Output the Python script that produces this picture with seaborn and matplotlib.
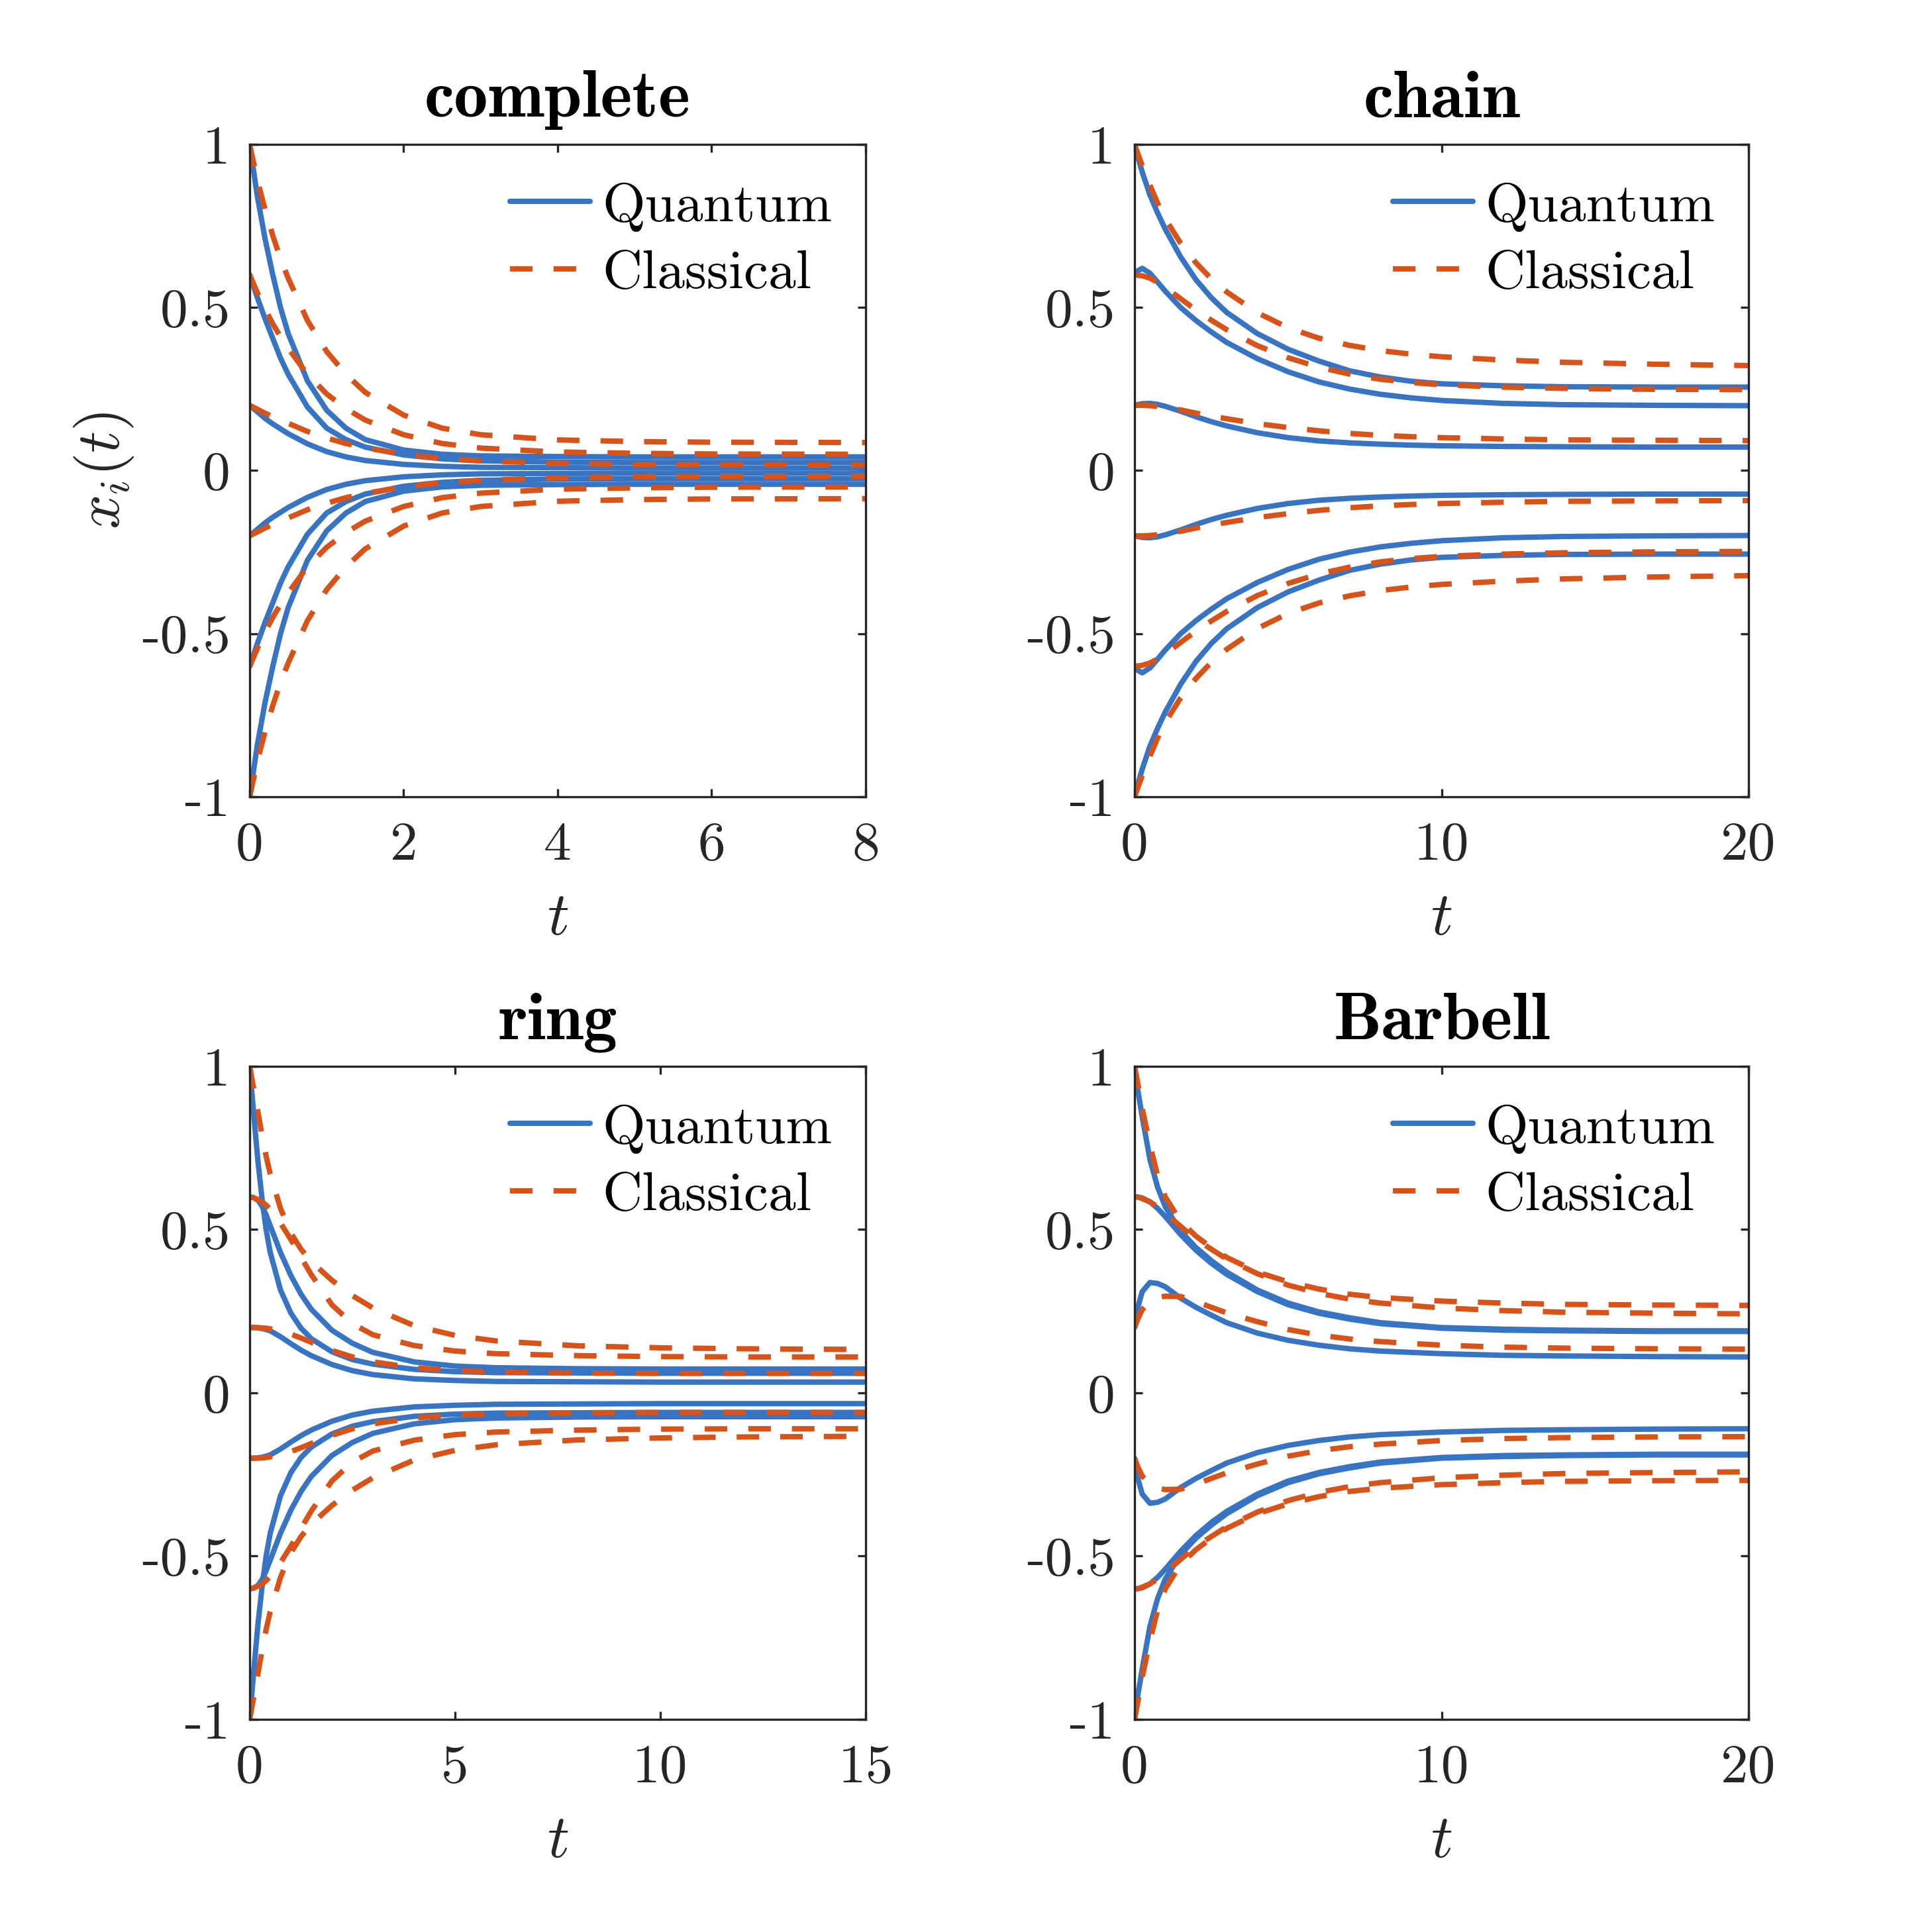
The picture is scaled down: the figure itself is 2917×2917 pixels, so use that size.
import numpy as np
import pandas as pd
import matplotlib
import matplotlib.pyplot as plt
from matplotlib.lines import Line2D
import seaborn as sns

matplotlib.use('Agg')

# ---- data (six nodes per panel, starting at 1, .6, .2, -.2, -.6, -1)

complete_t = [0, 0.1, 0.2, 0.3, 0.4, 0.5, 0.75, 1, 1.25, 1.5, 2, 2.5, 3, 4, 5, 6, 8]
complete_quantum = [
    [1.00, 0.84, 0.71, 0.60, 0.50, 0.42, 0.275, 0.185, 0.13, 0.095, 0.063, 0.05, 0.045, 0.043, 0.042, 0.042, 0.042],
    [0.60, 0.53, 0.465, 0.405, 0.345, 0.295, 0.195, 0.13, 0.095, 0.072, 0.048, 0.036, 0.03, 0.026, 0.025, 0.025, 0.025],
    [0.20, 0.18, 0.16, 0.143, 0.128, 0.113, 0.082, 0.058, 0.042, 0.031, 0.019, 0.013, 0.01, 0.009, 0.008, 0.008, 0.008],
    [-0.20, -0.18, -0.16, -0.143, -0.128, -0.113, -0.082, -0.058, -0.042, -0.031, -0.019, -0.013, -0.01, -0.009, -0.008, -0.008, -0.008],
    [-0.60, -0.53, -0.465, -0.405, -0.345, -0.295, -0.195, -0.13, -0.095, -0.072, -0.048, -0.036, -0.03, -0.026, -0.025, -0.025, -0.025],
    [-1.00, -0.84, -0.71, -0.60, -0.50, -0.42, -0.275, -0.185, -0.13, -0.095, -0.063, -0.05, -0.045, -0.043, -0.042, -0.042, -0.042],
]
complete_classical = [
    [1.00, 0.89, 0.80, 0.72, 0.65, 0.59, 0.46, 0.365, 0.295, 0.24, 0.17, 0.13, 0.11, 0.094, 0.089, 0.087, 0.086],
    [0.60, 0.545, 0.495, 0.45, 0.41, 0.375, 0.295, 0.235, 0.19, 0.155, 0.11, 0.083, 0.069, 0.057, 0.053, 0.051, 0.05],
    [0.20, 0.188, 0.176, 0.165, 0.155, 0.145, 0.12, 0.10, 0.083, 0.07, 0.05, 0.037, 0.03, 0.022, 0.019, 0.018, 0.017],
    [-0.20, -0.188, -0.176, -0.165, -0.155, -0.145, -0.12, -0.10, -0.083, -0.07, -0.05, -0.037, -0.03, -0.022, -0.019, -0.018, -0.017],
    [-0.60, -0.545, -0.495, -0.45, -0.41, -0.375, -0.295, -0.235, -0.19, -0.155, -0.11, -0.083, -0.069, -0.057, -0.053, -0.051, -0.05],
    [-1.00, -0.89, -0.80, -0.72, -0.65, -0.59, -0.46, -0.365, -0.295, -0.24, -0.17, -0.13, -0.11, -0.094, -0.089, -0.087, -0.086],
]

chain_t = [0, 0.1, 0.25, 0.5, 0.75, 1, 1.5, 2, 2.5, 3, 4, 5, 6, 7, 8, 9, 10, 12, 14, 17, 20]
chain_quantum = [
    [1.0, 0.965, 0.915, 0.845, 0.79, 0.74, 0.655, 0.585, 0.53, 0.485, 0.42, 0.372, 0.336, 0.306, 0.287, 0.274, 0.266, 0.26, 0.257, 0.256, 0.256],
    [0.6, 0.612, 0.62, 0.605, 0.578, 0.55, 0.5, 0.46, 0.425, 0.393, 0.343, 0.303, 0.272, 0.25, 0.234, 0.223, 0.215, 0.206, 0.202, 0.2, 0.199],
    [0.2, 0.202, 0.205, 0.206, 0.203, 0.197, 0.182, 0.165, 0.15, 0.137, 0.116, 0.101, 0.091, 0.085, 0.081, 0.078, 0.076, 0.074, 0.073, 0.072, 0.072],
    [-0.2, -0.202, -0.205, -0.206, -0.203, -0.197, -0.182, -0.165, -0.15, -0.137, -0.116, -0.101, -0.091, -0.085, -0.081, -0.078, -0.076, -0.074, -0.073, -0.072, -0.072],
    [-0.6, -0.612, -0.62, -0.605, -0.578, -0.55, -0.5, -0.46, -0.425, -0.393, -0.343, -0.303, -0.272, -0.25, -0.234, -0.223, -0.215, -0.206, -0.202, -0.2, -0.199],
    [-1.0, -0.965, -0.915, -0.845, -0.79, -0.74, -0.655, -0.585, -0.53, -0.485, -0.42, -0.372, -0.336, -0.306, -0.287, -0.274, -0.266, -0.26, -0.257, -0.256, -0.256],
]
chain_classical = [
    [1.0, 0.973, 0.935, 0.875, 0.82, 0.772, 0.697, 0.637, 0.588, 0.548, 0.484, 0.438, 0.406, 0.384, 0.368, 0.357, 0.349, 0.339, 0.332, 0.326, 0.322],
    [0.6, 0.599, 0.597, 0.59, 0.577, 0.562, 0.527, 0.492, 0.461, 0.432, 0.383, 0.346, 0.317, 0.296, 0.28, 0.27, 0.263, 0.256, 0.252, 0.249, 0.248],
    [0.2, 0.2, 0.2, 0.199, 0.197, 0.194, 0.186, 0.176, 0.167, 0.159, 0.144, 0.132, 0.122, 0.114, 0.108, 0.104, 0.101, 0.097, 0.094, 0.093, 0.092],
    [-0.2, -0.2, -0.2, -0.199, -0.197, -0.194, -0.186, -0.176, -0.167, -0.159, -0.144, -0.132, -0.122, -0.114, -0.108, -0.104, -0.101, -0.097, -0.094, -0.093, -0.092],
    [-0.6, -0.599, -0.597, -0.59, -0.577, -0.562, -0.527, -0.492, -0.461, -0.432, -0.383, -0.346, -0.317, -0.296, -0.28, -0.27, -0.263, -0.256, -0.252, -0.249, -0.248],
    [-1.0, -0.973, -0.935, -0.875, -0.82, -0.772, -0.697, -0.637, -0.588, -0.548, -0.484, -0.438, -0.406, -0.384, -0.368, -0.357, -0.349, -0.339, -0.332, -0.326, -0.322],
]

ring_t = [0, 0.1, 0.2, 0.3, 0.4, 0.5, 0.75, 1, 1.25, 1.5, 2, 2.5, 3, 4, 5, 6, 8, 10, 12, 15]
ring_quantum = [
    [1.0, 0.85, 0.71, 0.595, 0.5, 0.43, 0.315, 0.245, 0.198, 0.166, 0.126, 0.102, 0.088, 0.072, 0.065, 0.062, 0.061, 0.06, 0.06, 0.06],
    [0.6, 0.598, 0.59, 0.572, 0.545, 0.512, 0.43, 0.36, 0.302, 0.256, 0.192, 0.152, 0.124, 0.095, 0.082, 0.077, 0.074, 0.073, 0.073, 0.073],
    [0.2, 0.2, 0.199, 0.197, 0.194, 0.19, 0.172, 0.151, 0.131, 0.114, 0.087, 0.068, 0.056, 0.043, 0.038, 0.035, 0.034, 0.033, 0.033, 0.033],
    [-0.2, -0.2, -0.199, -0.197, -0.194, -0.19, -0.172, -0.151, -0.131, -0.114, -0.087, -0.068, -0.056, -0.043, -0.038, -0.035, -0.034, -0.033, -0.033, -0.033],
    [-0.6, -0.598, -0.59, -0.572, -0.545, -0.512, -0.43, -0.36, -0.302, -0.256, -0.192, -0.152, -0.124, -0.095, -0.082, -0.077, -0.074, -0.073, -0.073, -0.073],
    [-1.0, -0.85, -0.71, -0.595, -0.5, -0.43, -0.315, -0.245, -0.198, -0.166, -0.126, -0.102, -0.088, -0.072, -0.065, -0.062, -0.061, -0.06, -0.06, -0.06],
]
ring_classical = [
    [1.0, 0.93, 0.86, 0.79, 0.725, 0.67, 0.565, 0.49, 0.44, 0.402, 0.345, 0.298, 0.26, 0.206, 0.176, 0.159, 0.144, 0.138, 0.135, 0.133],
    [0.6, 0.597, 0.592, 0.585, 0.575, 0.562, 0.52, 0.47, 0.415, 0.362, 0.27, 0.212, 0.178, 0.145, 0.128, 0.12, 0.114, 0.111, 0.11, 0.11],
    [0.2, 0.2, 0.2, 0.199, 0.198, 0.196, 0.19, 0.18, 0.168, 0.155, 0.13, 0.11, 0.095, 0.077, 0.068, 0.064, 0.061, 0.06, 0.06, 0.06],
    [-0.2, -0.2, -0.2, -0.199, -0.198, -0.196, -0.19, -0.18, -0.168, -0.155, -0.13, -0.11, -0.095, -0.077, -0.068, -0.064, -0.061, -0.06, -0.06, -0.06],
    [-0.6, -0.597, -0.592, -0.585, -0.575, -0.562, -0.52, -0.47, -0.415, -0.362, -0.27, -0.212, -0.178, -0.145, -0.128, -0.12, -0.114, -0.111, -0.11, -0.11],
    [-1.0, -0.93, -0.86, -0.79, -0.725, -0.67, -0.565, -0.49, -0.44, -0.402, -0.345, -0.298, -0.26, -0.206, -0.176, -0.159, -0.144, -0.138, -0.135, -0.133],
]

barbell_t = [0, 0.1, 0.25, 0.5, 0.75, 1, 1.5, 2, 2.5, 3, 4, 5, 6, 7, 8, 10, 12, 14, 17, 20]
barbell_quantum = [
    [1.0, 0.93, 0.845, 0.715, 0.63, 0.57, 0.495, 0.445, 0.405, 0.37, 0.315, 0.275, 0.248, 0.23, 0.215, 0.2, 0.195, 0.192, 0.19, 0.19],
    [0.6, 0.6, 0.597, 0.585, 0.565, 0.54, 0.485, 0.437, 0.397, 0.363, 0.31, 0.27, 0.244, 0.226, 0.212, 0.198, 0.192, 0.19, 0.188, 0.188],
    [0.2, 0.26, 0.31, 0.338, 0.335, 0.325, 0.29, 0.262, 0.238, 0.215, 0.183, 0.161, 0.146, 0.135, 0.128, 0.12, 0.115, 0.113, 0.111, 0.11],
    [-0.2, -0.26, -0.31, -0.338, -0.335, -0.325, -0.29, -0.262, -0.238, -0.215, -0.183, -0.161, -0.146, -0.135, -0.128, -0.12, -0.115, -0.113, -0.111, -0.11],
    [-0.6, -0.6, -0.597, -0.585, -0.565, -0.54, -0.485, -0.437, -0.397, -0.363, -0.31, -0.27, -0.244, -0.226, -0.212, -0.198, -0.192, -0.19, -0.188, -0.188],
    [-1.0, -0.93, -0.845, -0.715, -0.63, -0.57, -0.495, -0.445, -0.405, -0.37, -0.315, -0.275, -0.248, -0.23, -0.215, -0.2, -0.195, -0.192, -0.19, -0.19],
]
barbell_classical = [
    [1.0, 0.95, 0.87, 0.76, 0.665, 0.6, 0.525, 0.48, 0.445, 0.415, 0.37, 0.34, 0.318, 0.302, 0.292, 0.281, 0.275, 0.271, 0.269, 0.268],
    [0.6, 0.6, 0.595, 0.585, 0.57, 0.55, 0.51, 0.47, 0.44, 0.41, 0.365, 0.33, 0.305, 0.287, 0.275, 0.26, 0.252, 0.247, 0.244, 0.242],
    [0.2, 0.225, 0.255, 0.28, 0.292, 0.296, 0.295, 0.28, 0.262, 0.245, 0.218, 0.194, 0.177, 0.165, 0.157, 0.146, 0.14, 0.137, 0.135, 0.134],
    [-0.2, -0.225, -0.255, -0.28, -0.292, -0.296, -0.295, -0.28, -0.262, -0.245, -0.218, -0.194, -0.177, -0.165, -0.157, -0.146, -0.14, -0.137, -0.135, -0.134],
    [-0.6, -0.6, -0.595, -0.585, -0.57, -0.55, -0.51, -0.47, -0.44, -0.41, -0.365, -0.33, -0.305, -0.287, -0.275, -0.26, -0.252, -0.247, -0.244, -0.242],
    [-1.0, -0.95, -0.87, -0.76, -0.665, -0.6, -0.525, -0.48, -0.445, -0.415, -0.37, -0.34, -0.318, -0.302, -0.292, -0.281, -0.275, -0.271, -0.269, -0.268],
]

panel_titles = ['complete', 'chain', 'ring', 'Barbell']
x_limits = [8, 20, 15, 20]
x_ticks = [[0, 2, 4, 6, 8], [0, 10, 20], [0, 5, 10, 15], [0, 10, 20]]
y_ticks = [-1, -0.5, 0, 0.5, 1]
y_tick_labels = ['-1', '-0.5', '0', '0.5', '1']
legend_labels = ['Quantum', 'Classical']

BLUE = '#3874C4'
ORANGE = '#D95319'
AXIS_GREY = '#262626'
LW = 1.95
DASH = (0, (4.2, 3.9))


def to_long(t, curves, model):
    """Stack the node curves into one long frame."""
    rows = []
    for node, vals in enumerate(curves):
        for ti, v in zip(t, vals):
            rows.append((ti, v, node, model))
    return pd.DataFrame(rows, columns=['t', 'x', 'node', 'model'])


def draw_panel(ax, t, quantum, classical, title, xmax, xticks, show_ylabel):
    q = to_long(t, quantum, 'Quantum')
    c = to_long(t, classical, 'Classical')
    sns.lineplot(data=q, x='t', y='x', units='node', estimator=None, sort=False,
                 color=BLUE, linewidth=LW, ax=ax, legend=False)
    sns.lineplot(data=c, x='t', y='x', units='node', estimator=None, sort=False,
                 color=ORANGE, linewidth=LW, linestyle=DASH, ax=ax, legend=False)

    ax.set_xlim(0, xmax)
    ax.set_ylim(-1, 1)
    ax.set_xticks(xticks)
    ax.set_xticklabels([str(v) for v in xticks])
    ax.set_yticks(y_ticks)
    ax.set_yticklabels(y_tick_labels)
    ax.tick_params(direction='in', length=2.9, width=0.8, colors=AXIS_GREY,
                   labelsize=20, top=True, right=True, pad=7)
    ax.tick_params(axis='x', pad=9)
    for s in ax.spines.values():
        s.set_linewidth(0.8)
        s.set_color(AXIS_GREY)

    ax.set_title(title, fontfamily='cmb10', fontsize=24.5, pad=10, color='black')
    ax.set_xlabel('$t$', fontsize=22, color=AXIS_GREY, labelpad=8)
    if show_ylabel:
        ax.set_ylabel('$x_i(t)$', fontsize=22, color=AXIS_GREY, labelpad=2)
    else:
        ax.set_ylabel('')

    handles = [Line2D([], [], color=BLUE, linewidth=LW),
               Line2D([], [], color=ORANGE, linewidth=LW, linestyle=DASH)]
    leg = ax.legend(handles, legend_labels, loc='upper right', frameon=False,
                    fontsize=20, handlelength=1.45, handletextpad=0.22,
                    labelspacing=0.33, borderaxespad=0.5,
                    bbox_to_anchor=(1.026, 1.018))
    for txt in leg.get_texts():
        txt.set_color('black')


def main():
    sns.set_style('ticks')
    plt.rcParams['font.family'] = 'serif'
    plt.rcParams['font.serif'] = ['cmr10', 'DejaVu Serif']
    plt.rcParams['mathtext.fontset'] = 'cm'
    plt.rcParams['axes.unicode_minus'] = False
    plt.rcParams['axes.formatter.use_mathtext'] = True

    fig = plt.figure(figsize=(2917 / 300, 2917 / 300), dpi=300)
    rects = [
        [0.12924, 0.58759, 0.31882, 0.33768],
        [0.58725, 0.58759, 0.31779, 0.33768],
        [0.12924, 0.11005, 0.31882, 0.33802],
        [0.58725, 0.11005, 0.31779, 0.33802],
    ]
    datasets = [
        (complete_t, complete_quantum, complete_classical),
        (chain_t, chain_quantum, chain_classical),
        (ring_t, ring_quantum, ring_classical),
        (barbell_t, barbell_quantum, barbell_classical),
    ]
    for i, (rect, (t, q, c)) in enumerate(zip(rects, datasets)):
        ax = fig.add_axes(rect)
        draw_panel(ax, t, q, c, panel_titles[i], x_limits[i], x_ticks[i], i == 0)

    fig.savefig('out.png', dpi=300, facecolor='white')
    plt.close(fig)


if __name__ == "__main__":
    main()
